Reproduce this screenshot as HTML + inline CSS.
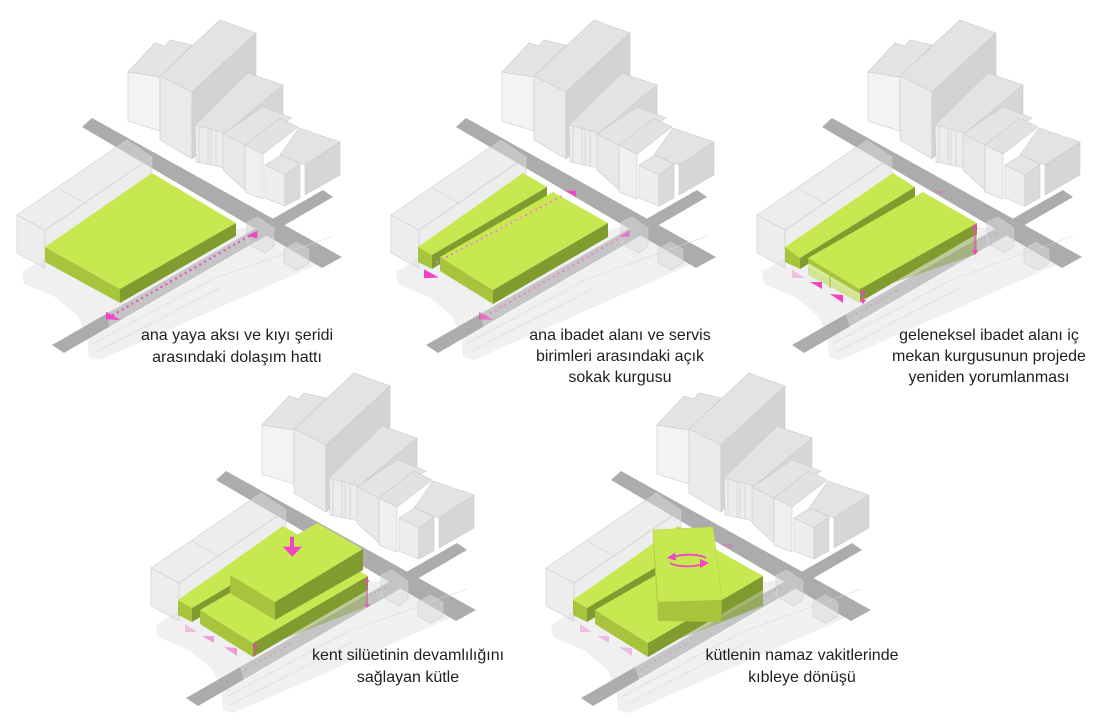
<!DOCTYPE html>
<html><head><meta charset="utf-8"><style>
html,body{margin:0;padding:0;background:#fff;}
svg{display:block;}
text{font-family:"Liberation Sans",sans-serif;font-size:16px;fill:#1e1e1e;text-anchor:middle;}
</style></head><body>
<svg width="1106" height="721" viewBox="0 0 1106 721" xmlns="http://www.w3.org/2000/svg">
<defs>
<g id="base">
  <polygon points="22,272 48,256 120,296 236,229 258,226 292,246 318,264 100,360 89,357 87,335 78,316 55,297 24,284" fill="#f0f0f0"/>
  <polygon points="82,127 92,118 342,257 322,268" fill="#acacac"/>
  <polygon points="52,345 323,190 333,197 64,353" fill="#acacac"/>
  <polygon points="106,314 247,233 250,247 110,328" fill="#ffffff" opacity=".3"/>
  <g fill="#dcdcdc" fill-opacity=".5" stroke="#cdcdcd" stroke-width=".6">
    <polygon points="247,222 258,217 274,228 274,246 265,253 247,243"/>
    <polygon points="284,249 296,242 309,249 309,263 297,270 284,263"/>
    <polygon points="17,215 127,140 152,157 45,230"/>
    <polygon points="17,215 45,230 45,268 17,253"/>
    <polygon points="45,230 152,157 152,176 45,250"/>
  </g>
  <line x1="58" y1="188" x2="86" y2="204" stroke="#d4d4d4" stroke-width=".6"/>
  <g stroke="#d9d9d9" stroke-width=".6" fill="none">
    <polyline points="92,344 213,279 333,236"/>
    <polyline points="96,352 220,288"/>
  </g>
  <g stroke="#cbcbcb" stroke-width=".6">
    <polygon points="128,72 160,77 160,131 128,121" fill="#f3f3f3"/>
    <polygon points="128,72 155,43 165,46 170,40 192,45 160,77" fill="#e4e4e4"/>
    <polygon points="160,76 220,20 256,33 192,92" fill="#e3e3e3"/>
    <polygon points="160,76 192,92 192,159 160,140" fill="#eaeaea"/>
    <polygon points="192,92 256,33 256,100 192,159" fill="#d3d3d3"/>
    <polygon points="225,133 283,85 283,118 240,150" fill="#d6d6d6"/>
    <polygon points="195,125 248,73 283,85 225,133" fill="#e3e3e3"/>
    <polygon points="195,125 225,133 225,168 196,162" fill="#ececec"/>
    <line x1="199" y1="126" x2="199" y2="163"/>
    <line x1="208" y1="128" x2="208" y2="165"/>
    <line x1="211" y1="129" x2="211" y2="165"/>
    <line x1="216" y1="130" x2="216" y2="166"/>
    <polygon points="223,134 263,107 292,118 245,145" fill="#e4e4e4"/>
    <polygon points="223,134 245,145 245,190 223,170" fill="#e8e8e8"/>
    <polygon points="245,145 280,118 298,127 263,154" fill="#e2e2e2"/>
    <polygon points="245,145 263,154 263,199 245,192" fill="#efefef"/>
    <polygon points="280,155 299,128 340,142 305,165" fill="#e3e3e3"/>
    <polygon points="305,165 340,142 340,175 305,195" fill="#d6d6d6"/>
    <polygon points="265,165 281,155 300,164 285,175" fill="#e5e5e5"/>
    <polygon points="265,165 285,175 285,206 265,198" fill="#eeeeee"/>
    <polygon points="285,175 300,164 300,198 285,206" fill="#dadada"/>
  </g>
</g>
<g id="bar">
  <polygon points="44,247 149,173 173,187 58,255" fill="#c8e852"/>
  <polygon points="44,247 58,255 58,269 44,262" fill="#a8c43c"/>
  <polygon points="58,255 173,187 173,201 58,269" fill="#809b2e"/>
</g>
<g id="main">
  <polygon points="66,257 179,192 234,223 119,290" fill="#c8e852"/>
  <polygon points="66,257 119,290 119,304 66,271" fill="#a8c43c"/>
  <polygon points="119,290 234,223 234,237 119,304" fill="#809b2e"/>
</g>
</defs>

<!-- Panel 1 -->
<g transform="translate(0,0)">
  <use href="#base"/>
  <polygon points="45,247 152,173 236,223 120,289" fill="#c8e852"/>
  <polygon points="45,247 120,289 120,303 45,262" fill="#a8c43c"/>
  <polygon points="120,289 236,223 236,236 120,303" fill="#809b2e"/>
  <line x1="113" y1="315" x2="251" y2="235" stroke="#f046c4" stroke-width="2.3" stroke-linecap="round" stroke-dasharray="0 5.6"/>
  <polygon points="106,311.7 106,319.3 120.7,320" fill="#f046c4"/>
  <polygon points="246.7,236 257.3,230.7 257.3,238.3" fill="#f046c4"/>
</g>

<!-- Panel 2 -->
<g transform="translate(374,0)">
  <use href="#base"/>
  <use href="#bar"/>
  <use href="#main"/>
  <line x1="63" y1="262" x2="190" y2="195" stroke="#f27fd2" stroke-width="2.2" stroke-linecap="round" stroke-dasharray="0 5.6"/>
  <polygon points="50,269.3 50,278.3 65,277.5" fill="#f046c4"/>
  <polygon points="191,190.7 202,190.7 202,196.7" fill="#f046c4"/>
  <line x1="112" y1="316" x2="249" y2="236" stroke="#f27fd2" stroke-width="2.2" stroke-linecap="round" stroke-dasharray="0 5.6"/>
  <polygon points="105,311.7 105,319.3 119.3,320" fill="#f046c4" opacity=".65"/>
  <polygon points="246,236 255.3,230.3 255.3,237" fill="#f046c4" opacity=".65"/>
</g>

<!-- Panel 3 -->
<g transform="translate(740,0)">
  <use href="#base"/>
  <polygon points="45,247 153,173 175,187 60,258" fill="#c8e852"/>
  <polygon points="45,247 60,258 60,269 45,262" fill="#a8c43c"/>
  <polygon points="60,258 175,187 175,199 60,269" fill="#809b2e"/>
  <polygon points="68,258 183,192 237,223 120,289" fill="#c8e852"/>
  <polygon points="68,263 120,294 120,303 68,275" fill="#b9d84a" opacity=".55"/>
  <polygon points="68,258 120,289 120,294 68,263" fill="#a8c43c"/>
  <line x1="90" y1="276" x2="90" y2="288" stroke="#8ea832" stroke-width=".7"/>
  <polygon points="120,289 237,223 237,234 120,302" fill="#809b2e"/>
  <polygon points="150,284 237,234 237,254" fill="#809b2e" opacity=".45"/>
  <g stroke="#f046c4" stroke-width="1.2" fill="#f046c4">
    <line x1="235" y1="227" x2="235" y2="252"/>
    <polygon points="232,229 238,229 235,224" stroke="none"/>
    <polygon points="232,250 238,250 235,255" stroke="none"/>
    <line x1="123" y1="293" x2="123" y2="301"/>
    <polygon points="120,294 126,294 123,290" stroke="none"/>
    <polygon points="120,300 126,300 123,304" stroke="none"/>
  </g>
  <polygon points="52,270 52,278 65,278" fill="#f046c4" opacity=".3"/>
  <polygon points="70,282 82,282 82,289" fill="#f046c4"/>
  <polygon points="90,294 103,295 103,303" fill="#f046c4"/>
  <polygon points="193,190.7 203,190.7 203,195" fill="#f046c4" opacity=".3"/>
  <line x1="112" y1="316" x2="160" y2="289" stroke="#f046c4" stroke-width="2" stroke-linecap="round" stroke-dasharray="0 5.6" opacity=".3"/>
  <line x1="240" y1="240" x2="256" y2="233" stroke="#f046c4" stroke-width="2" stroke-linecap="round" stroke-dasharray="0 5.6" opacity=".3"/>
</g>

<!-- Panel 4 -->
<g transform="translate(134,353)">
  <use href="#base"/>
  <use href="#bar"/>
  <use href="#main"/>
  <polygon points="150,286 234,237 234,253" fill="#809b2e" opacity=".45"/>
  <polygon points="96,222 183,170 229,196 141,249" fill="#c8e852"/>
  <polygon points="96,222 141,249 141,267 96,240" fill="#a8c43c"/>
  <polygon points="141,249 229,196 229,217 141,267" fill="#809b2e"/>
  <rect x="156" y="183.7" width="4" height="10.5" fill="#f046c4"/>
  <polygon points="148.7,193.7 168,193.7 158.3,203.7" fill="#f046c4"/>
  <g stroke="#f046c4" stroke-width="1.1" fill="#f046c4" opacity=".8">
    <line x1="233" y1="228" x2="233" y2="252"/>
    <polygon points="230,229 236,229 233,225" stroke="none"/>
    <polygon points="230,251 236,251 233,255" stroke="none"/>
    <line x1="121" y1="293" x2="121" y2="303"/>
    <polygon points="118,294 124,294 121,290" stroke="none"/>
  </g>
  <polygon points="51,271 51,279 63,279" fill="#f046c4" opacity=".3"/>
  <polygon points="68,283 80,283 80,290" fill="#f046c4" opacity=".5"/>
  <polygon points="90,294 103,295 103,303" fill="#f046c4" opacity=".5"/>
  <line x1="112" y1="316" x2="160" y2="289" stroke="#f046c4" stroke-width="2" stroke-linecap="round" stroke-dasharray="0 5.6" opacity=".3"/>
  <line x1="236" y1="242" x2="254" y2="233" stroke="#f046c4" stroke-width="2" stroke-linecap="round" stroke-dasharray="0 5.6" opacity=".3"/>
</g>

<!-- Panel 5 -->
<g transform="translate(529,353)">
  <use href="#base"/>
  <use href="#bar"/>
  <use href="#main"/>
  <polygon points="150,286 234,237 234,253" fill="#809b2e" opacity=".45"/>
  <polygon points="124,177 184,174 193,247 129,249" fill="#c8e852" stroke="#b6d44a" stroke-width=".6"/>
  <polygon points="124,177 129,249 129,268 124.5,196" fill="#b0cc42"/>
  <polygon points="129,249 193,247 192,269 129,268" fill="#a8c43c"/>
  <polygon points="193,247 234,224 234,252 192,269" fill="#809b2e" opacity=".4"/>
  <g fill="none" stroke="#f046c4" stroke-width="1.8">
    <path d="M177,205 A19,6 0 0 0 143,205"/>
    <path d="M141,210 A19,6 0 0 0 175,210"/>
  </g>
  <polygon points="138,205 146,199.5 147,207.5" fill="#f046c4"/>
  <polygon points="180,210 171,206 171,215" fill="#f046c4"/>
  <polygon points="51,271 51,279 63,279" fill="#f046c4" opacity=".3"/>
  <polygon points="68,283 80,283 80,290" fill="#f046c4" opacity=".3"/>
  <polygon points="90,294 103,295 103,303" fill="#f046c4" opacity=".3"/>
  <polygon points="191,191 203,191 203,196" fill="#f046c4" opacity=".3"/>
  <line x1="112" y1="316" x2="160" y2="289" stroke="#f046c4" stroke-width="2" stroke-linecap="round" stroke-dasharray="0 5.6" opacity=".3"/>
  <line x1="236" y1="242" x2="254" y2="233" stroke="#f046c4" stroke-width="2" stroke-linecap="round" stroke-dasharray="0 5.6" opacity=".3"/>
</g>

<!-- Labels -->
<text x="237" y="340">ana yaya aksı ve kıyı şeridi</text>
<text x="237" y="362">arasındaki dolaşım hattı</text>

<text x="620" y="340">ana ibadet alanı ve servis</text>
<text x="620" y="361">birimleri arasındaki açık</text>
<text x="620" y="382">sokak kurgusu</text>

<text x="989" y="340">geleneksel ibadet alanı iç</text>
<text x="989" y="361">mekan kurgusunun projede</text>
<text x="989" y="382">yeniden yorumlanması</text>

<text x="408" y="660">kent silüetinin devamlılığını</text>
<text x="408" y="682">sağlayan kütle</text>

<text x="802" y="660">kütlenin namaz vakitlerinde</text>
<text x="802" y="682">kıbleye dönüşü</text>
</svg>
</body></html>
